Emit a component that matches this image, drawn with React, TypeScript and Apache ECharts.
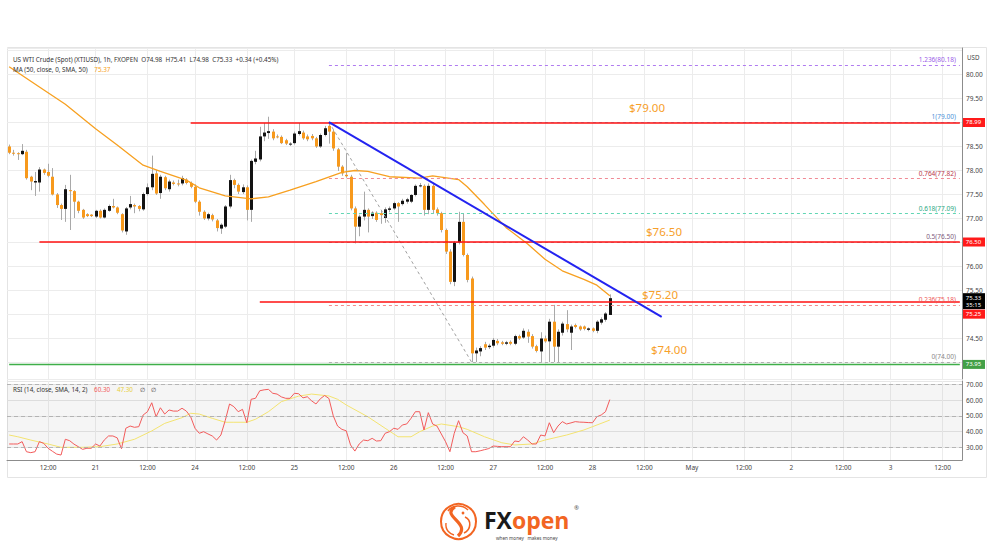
import React, { useEffect, useRef } from 'react';
import * as echarts from 'echarts';

// ---------- axis / tick labels ----------
const dayLabels = ['20', '21', '24', '25', '26', '27', '28', 'May', '2', '3'];
const dayFirstHour = [3, 0, 0, 0, 0, 0, 0, 0, 0, 0];
const dayLastHour = [22, 22, 22, 22, 22, 22, 22, 22, 22, 16];
const midDayLabel = '12:00';

// ---------- hourly candles [open, high, low, close] ----------
const apr20 = [
  [78.49, 78.53, 78.33, 78.36], [78.36, 78.42, 78.3, 78.35], [78.35, 78.37, 78.21, 78.33], [78.33, 78.54, 78.31, 78.4],
  [78.38, 78.42, 77.8, 77.83], [77.86, 77.88, 77.58, 77.76], [77.74, 77.96, 77.46, 77.77], [77.74, 78.06, 77.55, 78.01],
  [78.01, 78.03, 77.9, 77.94], [77.96, 78.13, 77.85, 77.88], [77.86, 78.04, 77.47, 77.49], [77.49, 77.52, 77.21, 77.27],
  [77.27, 77.3, 76.96, 77.19], [77.19, 77.69, 76.92, 77.6], [77.58, 77.9, 76.75, 77.57], [77.56, 77.58, 77.0, 77.34],
  [77.34, 77.36, 77.1, 77.15], [77.17, 77.19, 76.98, 77.01], [77.08, 77.1, 77.02, 77.04], [77.07, 77.08, 77.02, 77.04],
];
const apr21 = [
  [77.03, 77.17, 77.0, 77.15], [77.15, 77.18, 76.99, 77.01], [77.01, 77.2, 76.99, 77.17], [77.15, 77.28, 77.13, 77.25],
  [77.25, 77.4, 77.2, 77.22], [77.22, 77.24, 77.08, 77.11], [77.08, 77.1, 76.7, 76.74], [76.72, 77.23, 76.65, 77.2],
  [77.22, 77.46, 77.18, 77.29], [77.27, 77.3, 77.1, 77.24], [77.25, 77.27, 77.14, 77.19], [77.18, 77.53, 77.15, 77.5],
  [77.5, 77.72, 77.47, 77.64], [77.64, 78.3, 77.58, 77.92], [77.93, 78.0, 77.48, 77.51], [77.52, 77.9, 77.4, 77.86],
  [77.85, 77.88, 77.58, 77.62], [77.6, 77.8, 77.55, 77.76], [77.74, 77.78, 77.68, 77.71], [77.72, 77.8, 77.66, 77.7],
  [77.72, 77.88, 77.68, 77.83], [77.8, 77.83, 77.7, 77.73], [77.73, 77.76, 77.62, 77.65],
];
const apr24 = [
  [77.65, 77.7, 77.31, 77.34], [77.34, 77.37, 77.05, 77.13], [77.13, 77.16, 76.96, 76.99], [76.99, 77.11, 76.95, 77.08],
  [77.06, 77.09, 76.93, 76.97], [76.95, 76.98, 76.72, 76.79], [76.78, 76.89, 76.67, 76.86], [76.82, 77.27, 76.79, 77.24],
  [77.24, 77.9, 77.2, 77.79], [77.79, 77.82, 77.62, 77.69], [77.69, 77.72, 77.5, 77.55], [77.54, 77.7, 77.5, 77.64],
  [77.64, 77.68, 76.95, 77.17], [77.17, 78.22, 76.92, 78.19], [78.17, 78.4, 78.12, 78.24], [78.22, 78.9, 78.18, 78.7],
  [78.7, 78.98, 78.6, 78.78], [78.77, 79.11, 78.65, 78.81], [78.8, 78.85, 78.62, 78.66], [78.7, 78.74, 78.66, 78.69],
  [78.69, 78.72, 78.54, 78.56], [78.62, 78.65, 78.52, 78.55], [78.55, 78.58, 78.5, 78.55],
];
const apr25 = [
  [78.56, 78.8, 78.53, 78.76], [78.75, 78.98, 78.72, 78.81], [78.78, 78.82, 78.63, 78.66], [78.7, 78.74, 78.6, 78.64],
  [78.71, 78.75, 78.62, 78.66], [78.66, 78.69, 78.46, 78.49], [78.49, 78.76, 78.46, 78.73], [78.73, 78.92, 78.7, 78.87],
  [78.92, 79.0, 78.55, 78.8], [78.8, 78.84, 78.4, 78.45], [78.43, 78.46, 77.98, 78.07], [78.07, 78.1, 77.88, 77.93],
  [77.9, 78.35, 77.84, 77.87], [77.86, 77.9, 77.16, 77.2], [77.2, 77.24, 76.47, 76.82], [76.82, 77.07, 76.62, 77.03],
  [77.03, 77.55, 76.95, 77.17], [77.17, 77.2, 76.7, 77.03], [77.04, 77.14, 76.98, 77.11], [77.11, 77.14, 76.92, 76.96],
  [77.1, 77.16, 76.88, 77.06], [77.0, 77.22, 76.9, 77.18], [77.17, 77.24, 77.12, 77.2],
];
const apr26 = [
  [77.2, 77.34, 77.17, 77.31], [77.31, 77.33, 76.92, 77.24], [77.29, 77.4, 77.26, 77.36], [77.34, 77.42, 77.3, 77.39],
  [77.34, 77.5, 77.31, 77.48], [77.48, 77.7, 77.45, 77.67], [77.67, 77.73, 77.64, 77.68], [77.67, 77.7, 77.05, 77.17],
  [77.17, 77.72, 77.08, 77.67], [77.67, 77.72, 77.1, 77.17], [77.18, 77.22, 77.05, 77.1], [77.1, 77.13, 76.7, 76.75],
  [76.75, 76.78, 76.25, 76.3], [76.3, 76.35, 75.62, 75.67], [75.67, 76.52, 75.58, 76.49], [76.49, 77.13, 76.45, 76.92],
  [76.92, 77.1, 76.2, 76.23], [76.23, 76.26, 75.66, 75.71], [75.74, 75.78, 74.0, 74.18], [74.18, 74.3, 74.0, 74.24],
  [74.22, 74.33, 74.12, 74.29], [74.37, 74.42, 74.25, 74.3], [74.31, 74.38, 74.27, 74.34],
];
const apr27 = [
  [74.34, 74.5, 74.3, 74.46], [74.44, 74.48, 74.35, 74.39], [74.41, 74.44, 74.35, 74.38], [74.38, 74.44, 74.35, 74.41],
  [74.42, 74.45, 74.35, 74.38], [74.38, 74.57, 74.35, 74.54], [74.54, 74.57, 74.46, 74.49], [74.51, 74.7, 74.48, 74.65],
  [74.63, 74.68, 74.4, 74.53], [74.54, 74.58, 74.28, 74.32], [74.33, 74.36, 74.2, 74.23], [74.22, 74.62, 74.0, 74.49],
  [74.49, 74.55, 74.4, 74.43], [74.43, 74.9, 74.0, 74.84], [74.84, 75.19, 74.0, 74.32], [74.32, 74.68, 74.0, 74.63],
  [74.61, 74.84, 74.55, 74.8], [74.79, 75.08, 74.62, 74.68], [74.61, 74.78, 74.25, 74.74], [74.77, 74.8, 74.7, 74.73],
  [74.74, 74.76, 74.65, 74.68], [74.74, 74.76, 74.66, 74.69], [74.67, 74.72, 74.64, 74.7],
];
const apr28 = [
  [74.7, 74.72, 74.62, 74.65], [74.65, 74.87, 74.6, 74.84], [74.82, 74.93, 74.78, 74.89], [74.88, 75.04, 74.84, 75.01],
  [74.98, 75.41, 74.98, 75.33],
];

// ---------- MA(50) readings [bar index, value] ----------
const maPoints = [
  [0, 80.15], [7, 79.73], [13, 79.37], [20, 78.86], [25, 78.52], [31, 78.1], [35, 77.97], [41, 77.79], [44, 77.63],
  [50, 77.46], [56, 77.4], [60, 77.44], [65, 77.58], [71, 77.76], [77, 77.95], [80, 77.99], [83, 77.97], [88, 77.86],
  [95, 77.83], [98, 77.88], [104, 77.8], [106, 77.65], [110, 77.28], [115, 76.8], [120, 76.46], [124, 76.14],
  [128, 75.9], [133, 75.72], [136, 75.6], [139, 75.38],
];

// ---------- RSI(14) per bar ----------
const rsiValues = [
  32.1, 32.1, 32.1, 33.6, 27.2, 26.6, 27.2, 33.6, 32.5, 29.4, 27.5, 25.7, 25.1, 35.1, 34.2, 32.0, 30.4, 28.7, 29.4, 29.4,
  32.1, 30.8, 34.6, 37.2, 37.2, 36.0, 29.1, 42.1, 43.5, 42.7, 43.1, 50.5, 52.6, 58.3, 49.4, 55.1, 51.1, 53.7, 53.0, 53.0, 54.8, 53.0, 49.4,
  42.1, 38.9, 39.9, 38.5, 37.2, 34.6, 37.8, 47.0, 57.5, 55.8, 52.6, 54.1, 45.6, 60.5, 61.1, 65.9, 66.5, 66.8, 64.3, 63.8, 62.0, 61.1, 61.1,
  64.3, 64.0, 61.4, 62.1, 59.5, 57.5, 60.8, 62.9, 61.0, 50.0, 43.5, 41.4, 40.5, 31.5, 27.6, 32.1, 34.6, 34.2, 35.7, 34.0, 34.2, 38.9, 39.9,
  42.1, 41.4, 44.2, 44.8, 48.4, 52.6, 52.6, 41.0, 52.0, 44.8, 43.5, 38.5, 33.5, 27.2, 38.9, 46.9, 39.3, 37.2, 27.2, 27.2, 27.8, 28.5, 29.2,
  30.8, 30.6, 30.4, 30.4, 30.4, 34.0, 33.6, 36.7, 34.6, 32.1, 32.1, 37.8, 37.2, 45.6, 39.3, 43.5, 46.3, 44.8, 45.5, 46.3, 46.0, 45.9, 45.7,
  45.6, 49.4, 50.5, 52.6, 60.3,
];
// RSI SMA readings [bar index, value]
const rsiSmaPoints = [
  [0, 37.8], [2, 36.7], [5, 34.6], [9, 32.1], [12, 30.0], [17, 30.0], [21, 30.4], [25, 32.1], [29, 35.1], [33, 40.4],
  [36, 45.2], [40, 48.8], [42, 51.6], [44, 51.1], [47, 48.4], [50, 45.9], [52, 45.9], [55, 45.9], [57, 47.8], [60, 52.6],
  [63, 59.0], [67, 62.5], [70, 63.8], [74, 62.6], [76, 60.5], [78, 56.9], [83, 49.4], [87, 42.1], [90, 36.7], [93, 36.7],
  [95, 39.9], [98, 43.5], [100, 44.8], [104, 43.1], [106, 41.4], [110, 36.7], [114, 32.9], [117, 31.5], [121, 32.1],
  [124, 34.6], [129, 37.8], [133, 41.0], [135, 43.1], [139, 47.3],
];
const rsiGuides = [70, 50, 30];

// ---------- annotations ----------
const levelPrices = [78.99, 76.5, 75.25];
const levelStartBars = [42, 7, 58];
const levelTexts = ['$79.00', '$76.50', '$75.20'];
const supportPrice = 73.95;
const supportText = '$74.00';
const fibRatios = ['1.236', '1', '0.764', '0.618', '0.5', '0.236', '0'];
const fibPrices = [80.18, 79.0, 77.82, 77.09, 76.5, 75.18, 74.0];
const swingHigh = [74, 79.0];
const swingLow = [107, 74.0];
const trendEnd = [151, 74.94];
const lastClose = 75.33;
const countdown = '35:15';
const hiddenPriceLabels = [79.0, 76.5, 75.0, 74.0]; // covered by price tags

// style lists (colours only)
const fibLineColors = ['#b07cf0', '#7fb3e6', '#f08a95', '#62d6b4', '#b59ab4', '#f28b8b', '#b0b0b0'];
const fibTextColors = ['#9a5de8', '#4c93d8', '#b8364a', '#2aa882', '#7d5b7e', '#ee5a5a', '#8a8a8a'];

// ---------- derived tables ----------
const categories: string[] = [];
const catHour: number[] = [];
const catDay: string[] = [];
dayLabels.forEach((d, di) => {
  for (let h = dayFirstHour[di]; h <= dayLastHour[di]; h++) {
    categories.push(`${d} ${String(h).padStart(2, '0')}:00`);
    catHour.push(h);
    catDay.push(d);
  }
});
const lastSlot = categories.length - 1;
const candles = [...apr20, ...apr21, ...apr24, ...apr25, ...apr26, ...apr27, ...apr28];
const candleData = candles.map((c, i) => [i, c[0], c[3], c[2], c[1]]); // idx, open, close, low, high
const isLabelSlot = (i: number) => catHour[i] === 0 || catHour[i] === 12;

const FONT = 'Noto Sans';
const UP = '#131313';
const DOWN = '#f7991c';

export default function App() {
  const ref = useRef<HTMLDivElement>(null);
  useEffect(() => {
    if (!ref.current) return;
    const chart = echarts.init(ref.current, undefined, { renderer: 'svg' });

    const fibLines = fibPrices.map((p, k) => [
      {
        coord: [swingHigh[0], p],
        lineStyle: { color: fibLineColors[k], width: 1, type: [3, 3] },
        label: {
          show: true,
          position: 'insideEndTop',
          formatter: `${fibRatios[k]}(${p.toFixed(2)})`,
          color: fibTextColors[k],
          fontSize: 6.5,
          fontFamily: FONT,
          distance: [4, 2],
        },
      },
      { coord: [lastSlot, p] },
    ]);
    const redLines = levelPrices.map((p, k) => [
      { coord: [levelStartBars[k], p], lineStyle: { color: '#ff1010', width: 1.7, type: 'solid' }, label: { show: false } },
      { coord: [lastSlot, p] },
    ]);

    const splitLineX = {
      show: true,
      interval: (i: number) => isLabelSlot(i),
      alignWithLabel: true,
      lineStyle: { color: '#ececec', width: 1 },
    };

    const option: any = {
      animation: false,
      backgroundColor: '#ffffff',
      textStyle: { fontFamily: FONT },
      grid: [
        { left: 7, right: 38, top: 48, height: 331 },
        { left: 7, right: 38, top: 381, height: 79 },
      ],
      xAxis: [
        {
          type: 'category', gridIndex: 0, data: categories, boundaryGap: true,
          axisLine: { show: false }, axisTick: { show: false }, axisLabel: { show: false },
          splitLine: splitLineX,
        },
        {
          type: 'category', gridIndex: 1, data: categories, boundaryGap: true,
          axisLine: { show: true, lineStyle: { color: '#8c8c8c' } }, axisTick: { show: false },
          axisLabel: {
            show: true,
            interval: (i: number) => isLabelSlot(i),
            formatter: (_v: string, i: number) => (catHour[i] === 0 ? catDay[i] : midDayLabel),
            fontSize: 6.5, color: '#444', margin: 4, fontFamily: FONT,
          },
          splitLine: splitLineX,
        },
      ],
      yAxis: [
        {
          type: 'value', gridIndex: 0, position: 'right', min: 73.646, max: 80.542,
          minInterval: 0.5, maxInterval: 0.5, splitNumber: 13,
          axisLine: { show: true, lineStyle: { color: '#8c8c8c' } }, axisTick: { show: false },
          axisLabel: {
            fontSize: 6.5, color: '#444', margin: 4, fontFamily: FONT,
            showMinLabel: false, showMaxLabel: false,
            formatter: (v: number) =>
              v > 80.2 || v < 73.9 || hiddenPriceLabels.some((h) => Math.abs(h - v) < 0.01) ? '' : v.toFixed(2),
          },
          splitLine: { show: true, lineStyle: { color: '#ececec' } },
        },
        {
          type: 'value', gridIndex: 1, position: 'right', min: 21.94, max: 72.1,
          minInterval: 10, maxInterval: 10, splitNumber: 5,
          axisLine: { show: true, lineStyle: { color: '#8c8c8c' } }, axisTick: { show: false },
          axisLabel: {
            fontSize: 6.5, color: '#444', margin: 4, fontFamily: FONT,
            showMinLabel: false, showMaxLabel: false,
            formatter: (v: number) => (v < 25 || v > 71 ? '' : v.toFixed(2)),
          },
          splitLine: { show: true, lineStyle: { color: '#e6e6e6' } },
        },
      ],
      series: [
        {
          type: 'custom', name: 'XTIUSD', xAxisIndex: 0, yAxisIndex: 0,
          data: candleData, encode: { x: 0, y: [1, 2, 3, 4] }, z: 3,
          renderItem: (_p: any, api: any) => {
            const i = api.value(0);
            const o = api.value(1), c = api.value(2), l = api.value(3), h = api.value(4);
            const pO = api.coord([i, o]);
            const pC = api.coord([i, c]);
            const pL = api.coord([i, l]);
            const pH = api.coord([i, h]);
            const cx = Math.round(pO[0]);
            const top = Math.min(pO[1], pC[1]);
            const ht = Math.max(1, Math.abs(pO[1] - pC[1]));
            const up = c >= o;
            return {
              type: 'group',
              children: [
                { type: 'line', shape: { x1: cx + 0.5, y1: pH[1], x2: cx + 0.5, y2: pL[1] }, style: { stroke: '#a9a9a9', lineWidth: 1 } },
                { type: 'rect', shape: { x: cx - 1, y: top, width: 3, height: ht }, style: { fill: up ? UP : DOWN } },
              ],
            };
          },
        },
        {
          type: 'line', name: 'MA', xAxisIndex: 0, yAxisIndex: 0, data: maPoints,
          showSymbol: false, symbol: 'none', z: 4,
          lineStyle: { color: '#f7a020', width: 1.3 },
          markLine: {
            silent: true, symbol: ['none', 'none'], animation: false,
            data: [
              ...fibLines,
              [
                { coord: swingHigh, lineStyle: { color: '#a0a0a0', width: 1, type: [3, 3] }, label: { show: false } },
                { coord: swingLow },
              ],
              ...redLines,
              [
                { coord: [0, supportPrice], lineStyle: { color: '#3fae49', width: 1.4, type: 'solid' }, label: { show: false } },
                { coord: [lastSlot, supportPrice] },
              ],
              [
                { coord: swingHigh, lineStyle: { color: '#2323f0', width: 2, type: 'solid' }, label: { show: false } },
                { coord: trendEnd },
              ],
            ],
          },
        },
        {
          type: 'line', name: 'RSI', xAxisIndex: 1, yAxisIndex: 1, data: rsiValues,
          showSymbol: false, symbol: 'none', z: 4,
          lineStyle: { color: '#f25b5b', width: 1 },
          markArea: {
            silent: true,
            itemStyle: { color: 'rgba(120,120,120,0.07)' },
            data: [[{ yAxis: 30 }, { yAxis: 70 }]],
          },
          markLine: {
            silent: true, symbol: ['none', 'none'], label: { show: false },
            lineStyle: { color: '#a8a8a8', width: 0.8, type: [4, 3] },
            data: rsiGuides.map((g) => ({ yAxis: g })),
          },
        },
        {
          type: 'line', name: 'RSI SMA', xAxisIndex: 1, yAxisIndex: 1, data: rsiSmaPoints,
          showSymbol: false, symbol: 'none', z: 3,
          lineStyle: { color: '#f3e370', width: 1 },
        },
      ],
    };
    chart.setOption(option);

    const yP = (v: number) => chart.convertToPixel({ yAxisIndex: 0 }, v) as number;
    const tag = (y: number, text: string, bg: string) => ({
      type: 'group', z: 100,
      children: [
        { type: 'rect', shape: { x: 962, y: y - 4.5, width: 23, height: 9 }, style: { fill: bg } },
        { type: 'text', x: 973.5, y: y, style: { text, fill: '#fff', fontSize: 6, fontFamily: FONT, align: 'center', verticalAlign: 'middle' } },
      ],
    });
    const yClose = yP(lastClose);
    const bigText = (x: number, y: number, text: string) => ({
      type: 'text', x, y, z: 50,
      style: { text, fill: '#f7a02a', fontSize: 11.5, fontFamily: FONT, align: 'left', verticalAlign: 'middle' },
    });

    chart.setOption({
      graphic: [
        { type: 'rect', z: -1, silent: true, shape: { x: 7.5, y: 47.5, width: 979, height: 430 }, style: { fill: 'none', stroke: '#e4e4e4', lineWidth: 1 } },
        {
          type: 'text', x: 13, y: 59, z: 50,
          style: { text: 'US WTI Crude (Spot) (XTIUSD), 1h, FXOPEN  O74.98  H75.41  L74.98  C75.33  +0.34 (+0.45%)', fill: '#333', fontSize: 6.3, fontFamily: FONT, verticalAlign: 'middle' },
        },
        {
          type: 'text', x: 13, y: 69, z: 50,
          style: {
            text: '{a|MA (50, close, 0, SMA, 50)}  {b|75.37}', verticalAlign: 'middle',
            rich: { a: { fill: '#333', fontSize: 6.3, fontFamily: FONT }, b: { fill: '#f7a020', fontSize: 6.3, fontFamily: FONT } },
          },
        },
        {
          type: 'text', x: 13, y: 389, z: 50,
          style: {
            text: '{a|RSI (14, close, SMA, 14, 2)}  {r|60.30}  {y|47.30}  {a|∅}  {a|∅}', verticalAlign: 'middle',
            rich: {
              a: { fill: '#333', fontSize: 6.3, fontFamily: FONT },
              r: { fill: '#f25b5b', fontSize: 6.3, fontFamily: FONT },
              y: { fill: '#e8cf3a', fontSize: 6.3, fontFamily: FONT },
            },
          },
        },
        { type: 'text', x: 967, y: 57, z: 50, style: { text: 'USD', fill: '#444', fontSize: 6.2, fontFamily: FONT, verticalAlign: 'middle' } },
        bigText(629, 107, levelTexts[0]),
        bigText(646, 231, levelTexts[1]),
        bigText(642, 294, levelTexts[2]),
        bigText(651, 349, supportText),
        tag(yP(levelPrices[0]), levelPrices[0].toFixed(2), '#ff1a1a'),
        tag(yP(levelPrices[1]), levelPrices[1].toFixed(2), '#ff1a1a'),
        {
          type: 'group', z: 100,
          children: [
            { type: 'rect', shape: { x: 962, y: yClose - 5, width: 23, height: 16 }, style: { fill: '#000' } },
            { type: 'text', x: 973.5, y: yClose, style: { text: lastClose.toFixed(2), fill: '#fff', fontSize: 6, fontFamily: FONT, align: 'center', verticalAlign: 'middle' } },
            { type: 'text', x: 973.5, y: yClose + 7, style: { text: countdown, fill: '#fff', fontSize: 6, fontFamily: FONT, align: 'center', verticalAlign: 'middle' } },
          ],
        },
        tag(yClose + 16, levelPrices[2].toFixed(2), '#ff1a1a'),
        tag(yP(supportPrice), supportPrice.toFixed(2), '#43a047'),
        // logo
        {
          type: 'group', z: 50,
          children: [
            { type: 'circle', shape: { cx: 458.5, cy: 521.5, r: 17.5 }, style: { fill: '#fff', stroke: '#f26522', lineWidth: 2 } },
            { type: 'bezierCurve', shape: { x1: 455, y1: 507, cpx1: 440, cpy1: 516, cpx2: 472, cpy2: 523, x2: 458, y2: 536 }, style: { stroke: '#f26522', lineWidth: 3.2, fill: null } },
            { type: 'bezierCurve', shape: { x1: 448, y1: 511, cpx1: 452, cpy1: 505, cpx2: 462, cpy2: 504, x2: 468, y2: 510 }, style: { stroke: '#f26522', lineWidth: 1.6, fill: null } },
            { type: 'bezierCurve', shape: { x1: 465, y1: 517, cpx1: 472, cpy1: 520, cpx2: 471, cpy2: 530, x2: 464, y2: 533 }, style: { stroke: '#f26522', lineWidth: 1.6, fill: null } },
            { type: 'bezierCurve', shape: { x1: 446, y1: 523, cpx1: 445, cpy1: 530, cpx2: 450, cpy2: 534, x2: 454, y2: 535 }, style: { stroke: '#f26522', lineWidth: 1.4, fill: null } },
            { type: 'circle', shape: { cx: 463, cy: 513, r: 1.4 }, style: { fill: '#f26522' } },
          ],
        },
        {
          type: 'text', x: 484, y: 519.5, z: 50,
          style: {
            text: '{a|FX}{b|open}', verticalAlign: 'middle',
            rich: {
              a: { fill: '#1a1a1a', fontSize: 23, lineHeight: 20, fontWeight: 'bold', fontFamily: 'Open Sans' },
              b: { fill: '#f26522', fontSize: 23, lineHeight: 20, fontWeight: 'bold', fontFamily: 'Open Sans' },
            },
          },
        },
        { type: 'text', x: 574, y: 508, z: 50, style: { text: '®', fill: '#555', fontSize: 6, fontFamily: FONT, verticalAlign: 'middle' } },
        { type: 'text', x: 496, y: 537.5, z: 50, style: { text: 'when money   makes money', fill: '#444', fontSize: 4.6, lineHeight: 5, fontFamily: FONT, verticalAlign: 'middle' } },
      ],
    });

    return () => chart.dispose();
  }, []);
  return <div ref={ref} style={{ position: 'absolute', left: 0, top: 0, width: 1000, height: 549 }} />;
}
